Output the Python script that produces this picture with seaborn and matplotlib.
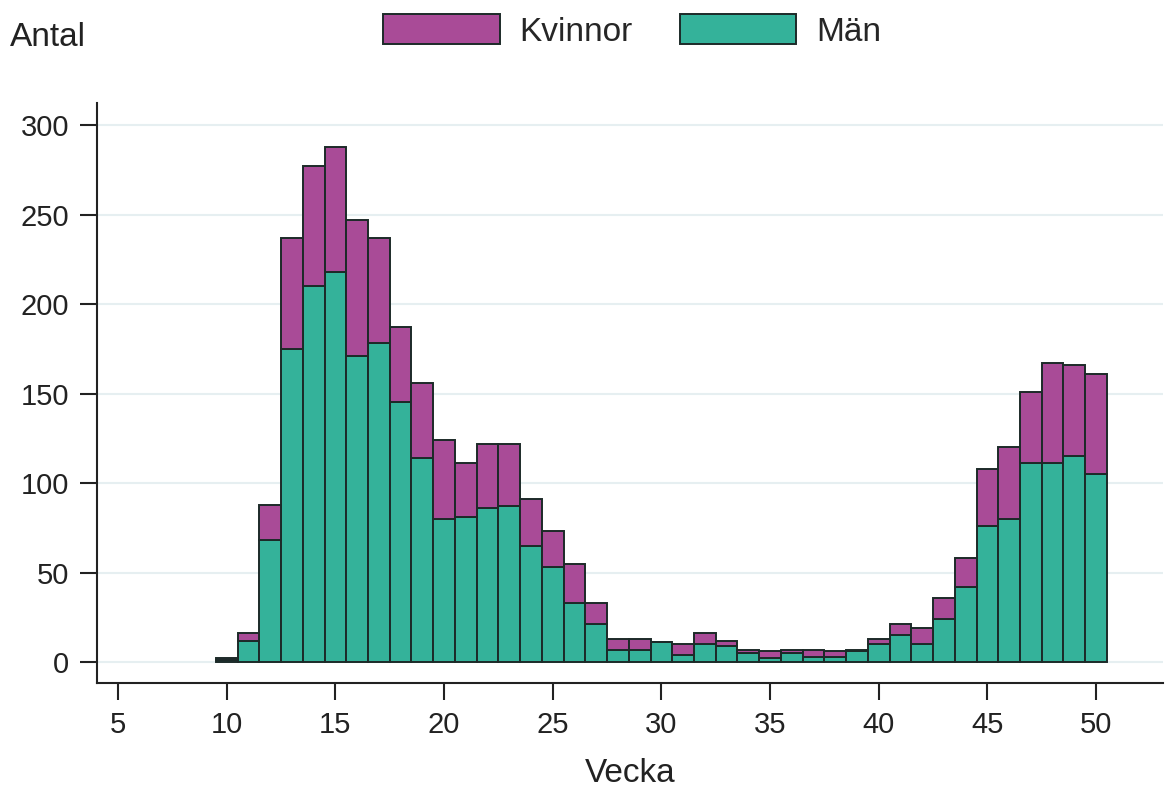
import numpy as np
import pandas as pd
import matplotlib
matplotlib.use("Agg")
import matplotlib.pyplot as plt
import seaborn as sns

# Data: cases per week, split by sex
weeks = list(range(10, 51))
man = [1, 12, 68, 175, 210, 218, 171, 178, 145, 114, 80, 81, 86, 87, 65, 53, 33, 21,
       7, 7, 11, 4, 10, 9, 5, 2, 5, 3, 3, 6, 10, 15, 10, 24, 42, 76, 80, 111, 111, 115, 105]
kvinnor = [1, 4, 20, 62, 67, 70, 76, 59, 42, 42, 44, 30, 36, 35, 26, 20, 22, 12,
           6, 6, 0, 6, 6, 3, 2, 4, 2, 4, 3, 1, 3, 6, 9, 12, 16, 32, 40, 40, 56, 51, 56]
groups = ["Kvinnor", "Män"]
colors = {"Kvinnor": "#a94b97", "Män": "#34b29a"}
yticks = [0, 50, 100, 150, 200, 250, 300]
xticks = [5, 10, 15, 20, 25, 30, 35, 40, 45, 50]

df = pd.DataFrame({
    "Vecka": weeks * 2,
    "Kön": ["Kvinnor"] * len(weeks) + ["Män"] * len(weeks),
    "Antal": kvinnor + man,
})

sns.set_style("ticks")
plt.rcParams["font.family"] = ["Liberation Sans", "DejaVu Sans"]
FS = 21
FS_LAB = 24

fig = plt.figure(figsize=(11.66, 7.9), dpi=100)
ax = fig.add_axes([97 / 1166, 1 - 683 / 790, 1066 / 1166, 580 / 790])

sns.histplot(data=df, x="Vecka", weights="Antal", hue="Kön", hue_order=groups,
             multiple="stack", discrete=True, palette=colors, alpha=1,
             edgecolor="#1c2a28", linewidth=1.4, ax=ax)

ax.set_xlim(4.03, 53.08)
ax.set_ylim(-11.7, 312.3)
ax.set_xticks(xticks)
ax.set_yticks(yticks)
ax.tick_params(labelsize=FS, length=12, width=1.5, color="#222222", labelcolor="#222222")
ax.tick_params(axis="x", pad=8)
ax.tick_params(axis="y", pad=8)
ax.grid(axis="y", color="#e6eff1", linewidth=1.5)
ax.set_axisbelow(True)
for side in ["top", "right"]:
    ax.spines[side].set_visible(False)
for side in ["left", "bottom"]:
    ax.spines[side].set_linewidth(1.5)
    ax.spines[side].set_color("#222222")

ax.set_ylabel("")
ax.set_xlabel("Vecka", fontsize=FS_LAB, labelpad=14, color="#222222")
fig.text(10 / 1166, 1 - 38 / 790, "Antal", fontsize=FS_LAB, va="center", ha="left", color="#222222")

sns.move_legend(ax, "center", bbox_to_anchor=(0.502, 1.124), ncol=2, frameon=False,
                title=None, fontsize=FS_LAB, handlelength=3.5, handleheight=1.0,
                handletextpad=0.6, columnspacing=1.4)

fig.savefig("out.png", dpi=100)
